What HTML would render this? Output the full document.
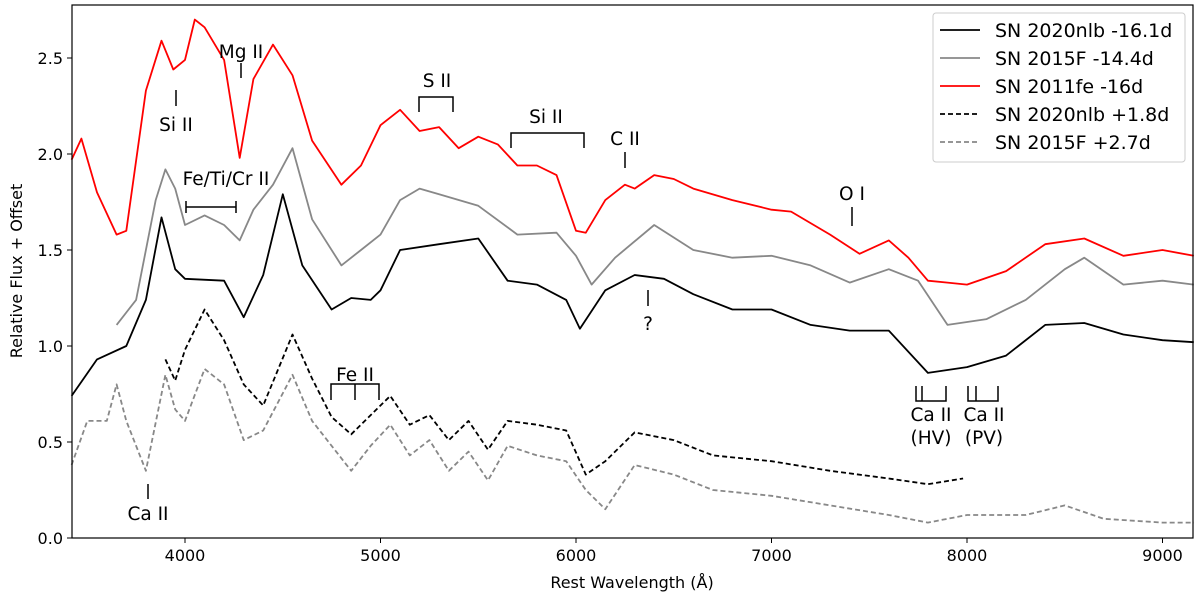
<!DOCTYPE html>
<html><head><meta charset="utf-8"><style>
body{margin:0;background:#fff}
svg{display:block;font-family:"DejaVu Sans","Liberation Sans",sans-serif}
</style></head><body>
<svg id="chart" width="1200" height="597">
<rect x="0" y="0" width="1200" height="597" fill="#fff"/>
<g id="series"></g>
<g id="annot" font-size="18.5" fill="#000" stroke="none"></g>
<rect x="72" y="5" width="1121" height="533" fill="none" stroke="#000" stroke-width="1.2"/>
<g id="axes" font-size="16"></g>
<text x="632" y="588" text-anchor="middle" font-size="16">Rest Wavelength (Å)</text>
<text transform="translate(22,271) rotate(-90)" text-anchor="middle" font-size="16">Relative Flux + Offset</text>
<g id="legend">
<rect x="933" y="13" width="252" height="149" rx="3" fill="#fff" stroke="#ccc"/>
</g>
</svg>
<script>
const redW=[3420,3470,3550,3650,3700,3800,3880,3940,4000,4050,4100,4200,4280,4350,4450,4550,4650,4800,4900,5000,5100,5200,5300,5400,5500,5600,5700,5800,5900,6000,6050,6150,6250,6300,6400,6500,6600,6800,7000,7100,7300,7450,7600,7700,7800,7900,8000,8200,8400,8600,8800,9000,9160];
const redF=[1.97,2.08,1.8,1.58,1.6,2.33,2.59,2.44,2.49,2.7,2.66,2.49,1.98,2.39,2.57,2.41,2.07,1.84,1.94,2.15,2.23,2.12,2.14,2.03,2.09,2.05,1.94,1.94,1.89,1.6,1.59,1.76,1.84,1.82,1.89,1.87,1.82,1.76,1.71,1.7,1.58,1.48,1.55,1.46,1.34,1.33,1.32,1.39,1.53,1.56,1.47,1.5,1.47];
const grayW=[3650,3750,3850,3900,3950,4000,4100,4200,4280,4350,4450,4550,4650,4800,4900,5000,5100,5200,5300,5500,5700,5900,6000,6080,6200,6400,6600,6800,7000,7200,7400,7600,7750,7900,8100,8300,8500,8600,8800,9000,9160];
const grayF=[1.11,1.24,1.76,1.92,1.82,1.63,1.68,1.63,1.55,1.71,1.84,2.03,1.66,1.42,1.5,1.58,1.76,1.82,1.79,1.73,1.58,1.59,1.47,1.32,1.46,1.63,1.5,1.46,1.47,1.42,1.33,1.4,1.34,1.11,1.14,1.24,1.4,1.46,1.32,1.34,1.32];
const blackW=[3420,3550,3700,3800,3880,3950,4000,4200,4300,4400,4500,4600,4750,4850,4950,5000,5100,5300,5500,5650,5800,5950,6020,6150,6300,6450,6600,6800,7000,7200,7400,7600,7800,8000,8200,8400,8600,8800,9000,9160];
const blackF=[0.74,0.93,1.0,1.24,1.67,1.4,1.35,1.34,1.15,1.37,1.79,1.42,1.19,1.25,1.24,1.29,1.5,1.53,1.56,1.34,1.32,1.24,1.09,1.29,1.37,1.35,1.27,1.19,1.19,1.11,1.08,1.08,0.86,0.89,0.95,1.11,1.12,1.06,1.03,1.02];
const bdW=[3900,3950,4000,4100,4200,4300,4400,4550,4650,4750,4850,4950,5050,5150,5250,5350,5450,5550,5650,5800,5950,6050,6150,6300,6500,6700,7000,7300,7600,7800,7980];
const bdF=[0.93,0.82,0.98,1.19,1.03,0.8,0.69,1.06,0.83,0.63,0.54,0.64,0.74,0.59,0.64,0.51,0.61,0.46,0.61,0.59,0.56,0.33,0.4,0.55,0.51,0.43,0.4,0.35,0.31,0.28,0.31];
const gdW=[3420,3500,3600,3650,3700,3800,3900,3950,4000,4100,4200,4300,4400,4550,4650,4750,4850,4950,5050,5150,5250,5350,5450,5550,5650,5800,5950,6050,6150,6300,6500,6700,7000,7300,7600,7800,8000,8300,8500,8700,9000,9160];
const gdF=[0.38,0.61,0.61,0.8,0.61,0.35,0.85,0.67,0.61,0.88,0.8,0.51,0.56,0.85,0.61,0.48,0.35,0.48,0.59,0.43,0.51,0.35,0.45,0.3,0.48,0.43,0.4,0.25,0.15,0.38,0.33,0.25,0.22,0.17,0.12,0.08,0.12,0.12,0.17,0.1,0.08,0.08];
const xTicks=[4000,5000,6000,7000,8000,9000];
const yTicks=[0.0,0.5,1.0,1.5,2.0,2.5];
const legendLabels=["SN 2020nlb -16.1d","SN 2015F -14.4d","SN 2011fe -16d","SN 2020nlb +1.8d","SN 2015F +2.7d"];

const NS="http://www.w3.org/2000/svg";
const X=w=>185+(w-4000)*0.1955;
const Y=f=>538-f*192;
function mk(tag,attrs,parent){const e=document.createElementNS(NS,tag);for(const k in attrs)e.setAttribute(k,attrs[k]);parent.appendChild(e);return e;}
const S=document.getElementById('series');
const specs=[[gdW,gdF,'#888','5,3','spectrum-2015f-late'],[bdW,bdF,'#000','5,3','spectrum-2020nlb-late'],[blackW,blackF,'#000','','spectrum-2020nlb-early'],[grayW,grayF,'#888','','spectrum-2015f-early'],[redW,redF,'#f00','','spectrum-2011fe']];
specs.forEach(s=>{
  const d=s[0].map((w,i)=>(i?'L':'M')+X(w).toFixed(1)+','+Y(s[1][i]).toFixed(1)).join('');
  const p=mk('path',{d:d,fill:'none',stroke:s[2],'stroke-width':1.8,'stroke-dasharray':s[3]||'none','stroke-linejoin':'round'},S);
  
  
});
const A=document.getElementById('axes');
xTicks.forEach(t=>{
  mk('line',{x1:X(t),x2:X(t),y1:538,y2:543,stroke:'#000'},A);
  const tx=mk('text',{x:X(t),y:561,'text-anchor':'middle'},A);tx.textContent=t;
  
  
});
yTicks.forEach(t=>{
  mk('line',{x1:67,x2:72,y1:Y(t),y2:Y(t),stroke:'#000'},A);
  const tx=mk('text',{x:63,y:Y(t)+6,'text-anchor':'end'},A);tx.textContent=t.toFixed(1);
  
  
});
const L=document.getElementById('legend');
const lc=['#000','#888','#f00','#000','#888'],ld=['','','','5,3','5,3'];
legendLabels.forEach((lab,i)=>{
  const y=30+i*28;
  mk('line',{x1:940,x2:980,y1:y,y2:y,stroke:lc[i],'stroke-width':1.8,'stroke-dasharray':ld[i]||'none'},L);
  const t=mk('text',{x:995,y:y+7,'font-size':19},L);t.textContent=lab;
  
  
});
const N=document.getElementById('annot');
function txt(x,y,s,a){const t=mk('text',{x:x,y:y,'text-anchor':a||'middle'},N);t.textContent=s;}
function ln(d){mk('path',{d:d,stroke:'#000','stroke-width':1.5,fill:'none'},N);}
txt(176,131,'Si II');ln('M176 90V106');
txt(241,58,'Mg II');ln('M241 63V78');
txt(226,185,'Fe/Ti/Cr II');ln('M186 213V201M186 207H236M236 213V201');
txt(437,87,'S II');ln('M419 112V97H453V112');
txt(546,123,'Si II');ln('M511 148V133H584V148');
txt(625,145,'C II');ln('M625 152V168');
txt(852,200,'O I');ln('M852 207V226');
txt(648,330,'?');ln('M648 290V306');
txt(355,381,'Fe II');ln('M331 400V384H379V400M355 384V400');
txt(148,520,'Ca II');ln('M148 484V499');
txt(931,421,'Ca II');txt(931,444,'(HV)');ln('M916 386V401H946V386M922 386V401');
txt(984,421,'Ca II');txt(984,444,'(PV)');ln('M968 386V401H998V386M976 386V401');
</script>
</body></html>
